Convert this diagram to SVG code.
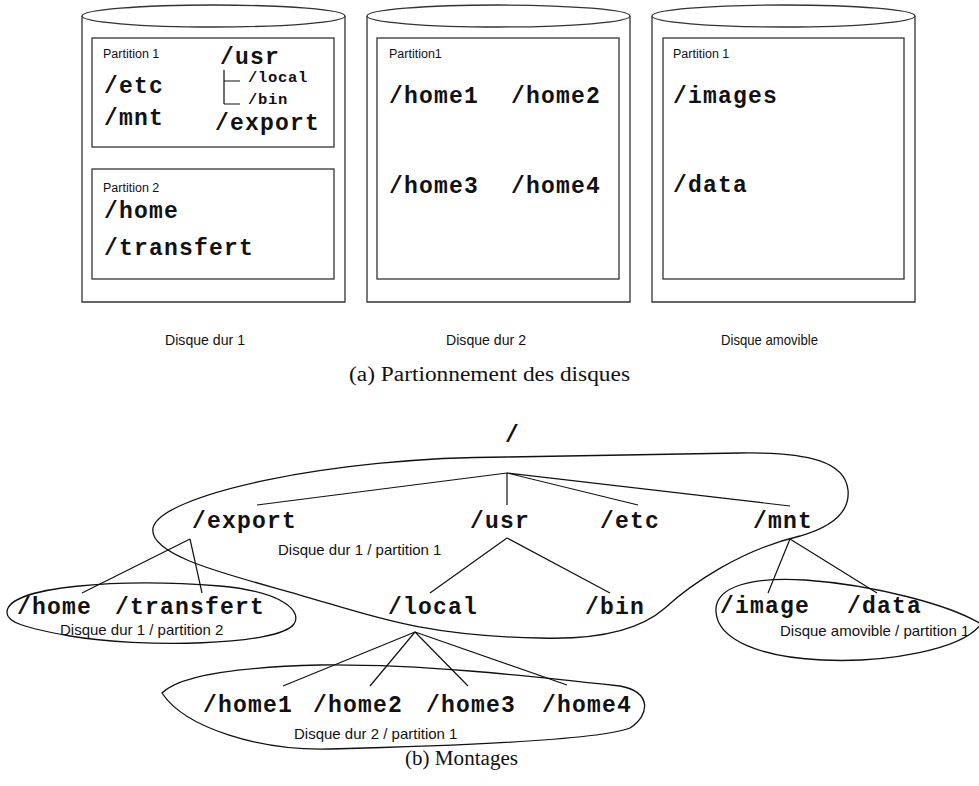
<svg xmlns="http://www.w3.org/2000/svg" width="979" height="786" viewBox="0 0 979 786">
<style>
  .cyl { fill: #fff; stroke: #333; stroke-width: 1.3; }
  .part { fill: none; stroke: #333; stroke-width: 1.3; }
  .mono { font-family: "Liberation Mono", "Courier New", monospace; font-weight: bold; font-size: 23px; letter-spacing: 1.2px; fill: #111; }
  .monos { font-family: "Liberation Mono", "Courier New", monospace; font-weight: bold; font-size: 15.5px; letter-spacing: 0.7px; fill: #111; }
  .lab { font-family: "Liberation Sans", Arial, sans-serif; font-size: 12.5px; fill: #111; }
  .disk { font-family: "Liberation Sans", Arial, sans-serif; font-size: 15px; fill: #111; }
  .mnt { font-family: "Liberation Sans", Arial, sans-serif; font-size: 15px; fill: #111; }
  .cap { font-family: "Liberation Serif", "Times New Roman", serif; font-size: 20px; fill: #111; }
  .ln { fill: none; stroke: #111; stroke-width: 1.2; }
  .blob { fill: none; stroke: #111; stroke-width: 1.3; }
</style>

<!-- (a) Disks -->
<g id="disk1">
  <path class="cyl" d="M82 16 L82 302 L345 302 L345 16"/>
  <ellipse class="cyl" cx="213.5" cy="16" rx="131.5" ry="11"/>
  <rect class="part" x="92" y="38" width="242" height="109"/>
  <text class="lab" x="103" y="58">Partition 1</text>
  <text class="mono" x="104" y="93">/etc</text>
  <text class="mono" x="104" y="125">/mnt</text>
  <text class="mono" x="220" y="64">/usr</text>
  <path class="ln" d="M224 70 L224 104 M224 81 L240 81 M224 104 L240 104"/>
  <text class="monos" x="248" y="82">/local</text>
  <text class="monos" x="248" y="104">/bin</text>
  <text class="mono" x="215" y="130">/export</text>
  <rect class="part" x="92" y="169" width="242" height="110"/>
  <text class="lab" x="103" y="192">Partition 2</text>
  <text class="mono" x="104" y="218">/home</text>
  <text class="mono" x="104" y="255">/transfert</text>
  <text class="disk" x="165" y="345" textLength="80" lengthAdjust="spacingAndGlyphs">Disque dur 1</text>
</g>

<g id="disk2">
  <path class="cyl" d="M367 16 L367 302 L630 302 L630 16"/>
  <ellipse class="cyl" cx="498.5" cy="16" rx="131.5" ry="11"/>
  <rect class="part" x="377" y="38" width="242" height="241"/>
  <text class="lab" x="389" y="58">Partition1</text>
  <text class="mono" x="389" y="103">/home1</text>
  <text class="mono" x="511" y="103">/home2</text>
  <text class="mono" x="389" y="193">/home3</text>
  <text class="mono" x="511" y="193">/home4</text>
  <text class="disk" x="446" y="345" textLength="80" lengthAdjust="spacingAndGlyphs">Disque dur 2</text>
</g>

<g id="disk3">
  <path class="cyl" d="M652 16 L652 302 L915 302 L915 16"/>
  <ellipse class="cyl" cx="783.5" cy="16" rx="131.5" ry="11"/>
  <rect class="part" x="663" y="38" width="241" height="241"/>
  <text class="lab" x="673" y="58">Partition 1</text>
  <text class="mono" x="673" y="103">/images</text>
  <text class="mono" x="673" y="192">/data</text>
  <text class="disk" x="721" y="345" textLength="97" lengthAdjust="spacingAndGlyphs">Disque amovible</text>
</g>

<text id="caption-a" class="cap" x="349" y="381" textLength="281" lengthAdjust="spacingAndGlyphs">(a) Partionnement des disques</text>

<!-- (b) Mounts -->
<g id="mount-areas">
  <path class="blob" d="M507 457 C330 457, 160 495, 153 528 C148 556, 230 575, 300 595 C370 615, 420 636, 540 638 C600 640, 640 630, 665 608 C690 585, 740 550, 800 536 C835 526, 850 510, 848 490 C845 462, 810 452, 740 453 L507 457 Z"/>
  <path class="blob" d="M7 612 C8 586, 120 578, 220 586 C285 592, 302 612, 294 624 C278 646, 140 648, 70 636 C25 628, 6 622, 7 612 Z"/>
  <path class="blob" d="M716 612 C714 585, 755 577, 805 580 C875 585, 950 605, 981 624 C962 650, 885 663, 822 660 C760 657, 718 640, 716 612 Z"/>
  <path class="blob" d="M162 693 C180 675, 240 667, 320 665 C420 664, 520 675, 620 686 C652 692, 650 715, 630 728 C600 740, 450 746, 330 749 C260 751, 185 728, 162 693 Z"/>
</g>

<g id="connectors">
  <path class="ln" d="M507 473 L257 505 M507 473 L507 505 M507 473 L638 505 M507 473 L790 506"/>
  <path class="ln" d="M190 539 L82 593 M190 539 L202 593"/>
  <path class="ln" d="M507 538 L430 593 M507 538 L610 593"/>
  <path class="ln" d="M790 539 L768 593 M790 539 L877 593"/>
  <path class="ln" d="M415 632 L283 686 M415 632 L370 686 M415 632 L468 686 M415 632 L567 685"/>
</g>

<g id="root"><text class="mono" x="505" y="442">/</text></g>
<g id="export"><text class="mono" x="192" y="528">/export</text>
  <text class="mnt" x="278" y="555">Disque dur 1 / partition 1</text></g>
<g id="usr"><text class="mono" x="470" y="528">/usr</text></g>
<g id="etc"><text class="mono" x="600" y="528">/etc</text></g>
<g id="mnt"><text class="mono" x="753" y="528">/mnt</text></g>
<g id="home"><text class="mono" x="17" y="614">/home</text></g>
<g id="transfert"><text class="mono" x="115" y="614">/transfert</text>
  <text class="mnt" x="60" y="635">Disque dur 1 / partition 2</text></g>
<g id="local"><text class="mono" x="388" y="614">/local</text></g>
<g id="bin"><text class="mono" x="585" y="614">/bin</text></g>
<g id="image"><text class="mono" x="720" y="613">/image</text></g>
<g id="data"><text class="mono" x="847" y="613">/data</text>
  <text class="mnt" x="780" y="636">Disque amovible / partition 1</text></g>
<g id="home1"><text class="mono" x="203" y="712">/home1</text></g>
<g id="home2"><text class="mono" x="313" y="712">/home2</text></g>
<g id="home3"><text class="mono" x="426" y="712">/home3</text></g>
<g id="home4"><text class="mono" x="542" y="712">/home4</text>
  <text class="mnt" x="294" y="739">Disque dur 2 / partition 1</text></g>

<text id="caption-b" class="cap" x="405" y="765" textLength="113" lengthAdjust="spacingAndGlyphs">(b) Montages</text>
</svg>
